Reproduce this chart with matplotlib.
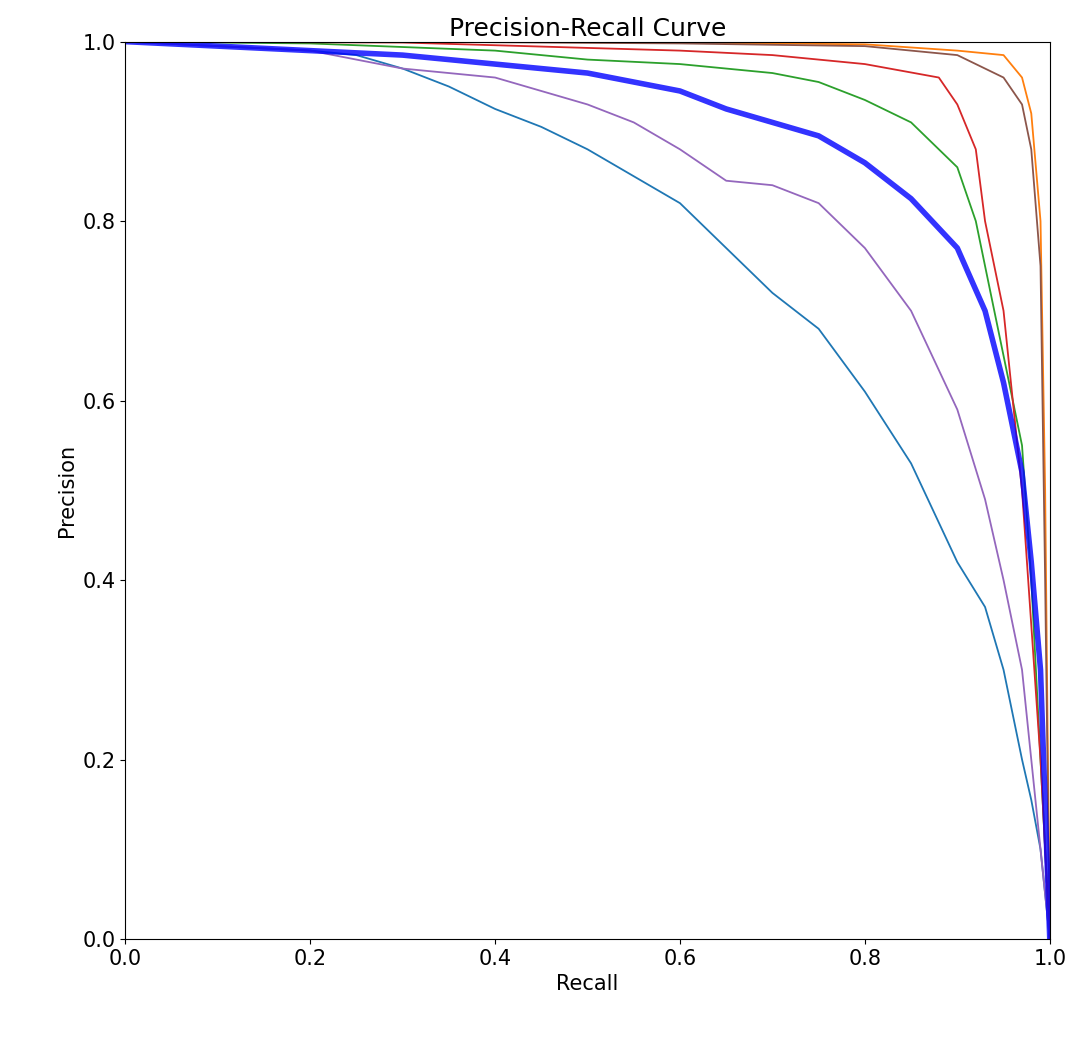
import matplotlib
matplotlib.use("Agg")
import matplotlib.pyplot as plt

c0_x = [0.0, 0.1, 0.2, 0.25, 0.3, 0.35, 0.4, 0.45, 0.5, 0.55, 0.6, 0.65, 0.7, 0.75, 0.8, 0.85, 0.9, 0.93, 0.95, 0.97, 0.98, 0.99, 1.0]
c0_y = [1.0, 0.995, 0.99, 0.985, 0.97, 0.95, 0.925, 0.905, 0.88, 0.85, 0.82, 0.77, 0.72, 0.68, 0.61, 0.53, 0.42, 0.37, 0.30, 0.20, 0.155, 0.1, 0.0]
c1_x = [0.0, 0.3, 0.6, 0.8, 0.9, 0.95, 0.97, 0.98, 0.99, 0.995, 1.0]
c1_y = [1.0, 1.0, 0.999, 0.997, 0.99, 0.985, 0.96, 0.92, 0.80, 0.5, 0.0]
c2_x = [0.0, 0.2, 0.4, 0.5, 0.6, 0.7, 0.75, 0.8, 0.85, 0.9, 0.92, 0.93, 0.95, 0.97, 0.98, 0.99, 1.0]
c2_y = [1.0, 0.998, 0.99, 0.98, 0.975, 0.965, 0.955, 0.935, 0.91, 0.86, 0.80, 0.75, 0.65, 0.55, 0.40, 0.2, 0.0]
c3_x = [0.0, 0.3, 0.6, 0.7, 0.8, 0.88, 0.9, 0.92, 0.93, 0.95, 0.96, 0.97, 0.98, 0.99, 1.0]
c3_y = [1.0, 0.999, 0.99, 0.985, 0.975, 0.96, 0.93, 0.88, 0.80, 0.70, 0.60, 0.50, 0.35, 0.2, 0.0]
c4_x = [0.0, 0.1, 0.2, 0.25, 0.3, 0.4, 0.5, 0.55, 0.6, 0.65, 0.7, 0.75, 0.8, 0.85, 0.9, 0.93, 0.95, 0.97, 0.98, 0.99, 1.0]
c4_y = [1.0, 0.995, 0.99, 0.98, 0.97, 0.96, 0.93, 0.91, 0.88, 0.845, 0.84, 0.82, 0.77, 0.70, 0.59, 0.49, 0.40, 0.30, 0.20, 0.1, 0.0]
c5_x = [0.0, 0.3, 0.6, 0.8, 0.9, 0.95, 0.97, 0.98, 0.99, 0.995, 1.0]
c5_y = [1.0, 1.0, 0.998, 0.995, 0.985, 0.96, 0.93, 0.88, 0.75, 0.4, 0.0]
all_x = [0.0, 0.1, 0.2, 0.3, 0.4, 0.5, 0.55, 0.6, 0.65, 0.7, 0.75, 0.8, 0.85, 0.9, 0.93, 0.95, 0.97, 0.98, 0.99, 1.0]
all_y = [1.0, 0.995, 0.99, 0.985, 0.975, 0.965, 0.955, 0.945, 0.925, 0.91, 0.895, 0.865, 0.825, 0.77, 0.70, 0.62, 0.52, 0.42, 0.30, 0.0]

fig = plt.figure(figsize=(10.8, 10.41), dpi=100)
ax = fig.add_axes([0.116, 0.098, 0.856, 0.862])
for i, (x, y) in enumerate([(c0_x, c0_y), (c1_x, c1_y), (c2_x, c2_y), (c3_x, c3_y), (c4_x, c4_y), (c5_x, c5_y)]):
    ax.plot(x, y, color=f"C{i}", linewidth=1.3)
ax.plot(all_x, all_y, color="blue", linewidth=4, alpha=0.8)
ax.set_xlim(0, 1)
ax.set_ylim(0, 1)
ax.set_xlabel("Recall", fontsize=15)
ax.set_ylabel("Precision", fontsize=15)
ax.set_title("Precision-Recall Curve", fontsize=18, pad=4)
ax.tick_params(labelsize=15)
fig.savefig("out.png")
